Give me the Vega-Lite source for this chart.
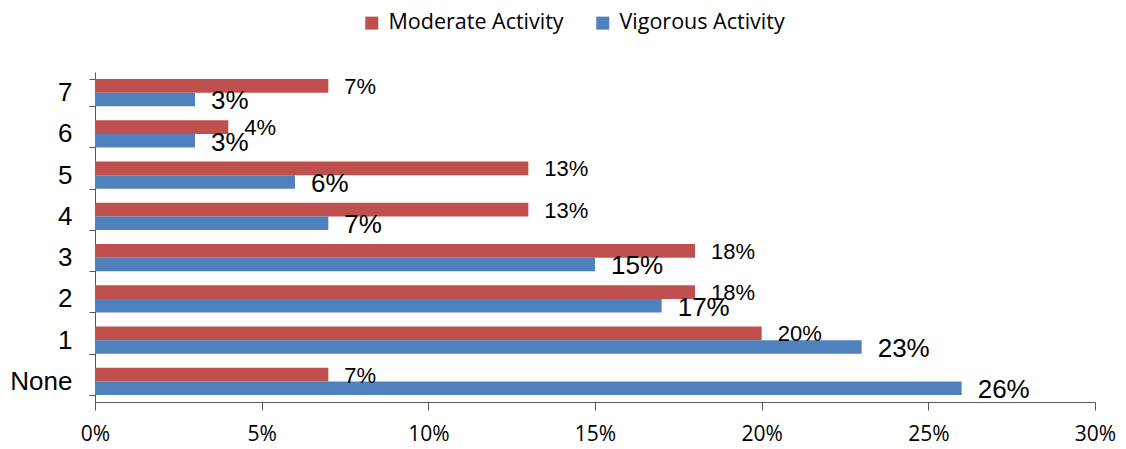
{
  "$schema": "https://vega.github.io/schema/vega-lite/v6.json",
  "autosize": {"type": "none"},
  "width": 1000,
  "height": 330,
  "padding": {"left": 95, "top": 72, "right": 31, "bottom": 47},
  "config": {
    "view": {"stroke": null},
    "font": "Liberation Sans",
    "text": {"font": "Liberation Sans", "color": "#000000"}
  },
  "data": {
    "values": [
      {"category": "7", "series": "Moderate Activity", "value": 0.07},
      {"category": "6", "series": "Moderate Activity", "value": 0.04},
      {"category": "5", "series": "Moderate Activity", "value": 0.13},
      {"category": "4", "series": "Moderate Activity", "value": 0.13},
      {"category": "3", "series": "Moderate Activity", "value": 0.18},
      {"category": "2", "series": "Moderate Activity", "value": 0.18},
      {"category": "1", "series": "Moderate Activity", "value": 0.20},
      {"category": "None", "series": "Moderate Activity", "value": 0.07},
      {"category": "7", "series": "Vigorous Activity", "value": 0.03},
      {"category": "6", "series": "Vigorous Activity", "value": 0.03},
      {"category": "5", "series": "Vigorous Activity", "value": 0.06},
      {"category": "4", "series": "Vigorous Activity", "value": 0.07},
      {"category": "3", "series": "Vigorous Activity", "value": 0.15},
      {"category": "2", "series": "Vigorous Activity", "value": 0.17},
      {"category": "1", "series": "Vigorous Activity", "value": 0.23},
      {"category": "None", "series": "Vigorous Activity", "value": 0.26}
    ]
  },
  "encoding": {
    "y": {
      "field": "category",
      "type": "nominal",
      "sort": ["7", "6", "5", "4", "3", "2", "1", "None"],
      "scale": {"paddingInner": 0.34, "paddingOuter": 0.17},
      "axis": {
        "title": null,
        "tickBand": "extent",
        "labelFont": "Liberation Sans",
        "labelFontSize": 26,
        "labelColor": "#000000",
        "labelPadding": 17,
        "tickSize": 6,
        "tickColor": "#555555",
        "domainColor": "#555555",
        "grid": false
      }
    },
    "yOffset": {
      "field": "series",
      "type": "nominal",
      "sort": ["Moderate Activity", "Vigorous Activity"]
    },
    "x": {
      "field": "value",
      "type": "quantitative",
      "scale": {"domain": [0, 0.3], "nice": false},
      "axis": {
        "title": null,
        "format": ".0%",
        "values": [0, 0.05, 0.1, 0.15, 0.2, 0.25, 0.3],
        "grid": false,
        "labelFont": "Open Sans",
        "labelFontSize": 21,
        "labelColor": "#000000",
        "labelPadding": 13,
        "tickSize": 8,
        "tickColor": "#555555",
        "domainColor": "#555555",
        "labelFlush": false
      }
    }
  },
  "layer": [
    {
      "mark": {"type": "bar"},
      "encoding": {
        "color": {
          "field": "series",
          "type": "nominal",
          "sort": ["Moderate Activity", "Vigorous Activity"],
          "scale": {"domain": ["Moderate Activity", "Vigorous Activity"], "range": ["#C0504D", "#4F81BD"]},
          "legend": {
            "title": null,
            "orient": "none",
            "direction": "horizontal",
            "legendX": 266,
            "legendY": -60,
            "padding": 0,
            "symbolType": "square",
            "symbolSize": 169,
            "symbolStrokeWidth": 0,
            "labelFont": "Open Sans",
            "labelFontSize": 21.5,
            "labelColor": "#000000",
            "labelOffset": 6,
            "columnPadding": 28,
            "labelLimit": 400
          }
        }
      }
    },
    {
      "transform": [{"filter": "datum.series === 'Moderate Activity'"}],
      "mark": {"type": "text", "align": "left", "baseline": "middle", "dx": 16, "dy": 1, "fontSize": 22},
      "encoding": {
        "text": {"field": "value", "type": "quantitative", "format": ".0%"}
      }
    },
    {
      "transform": [{"filter": "datum.series === 'Vigorous Activity'"}],
      "mark": {"type": "text", "align": "left", "baseline": "middle", "dx": 16, "dy": 2, "fontSize": 26},
      "encoding": {
        "text": {"field": "value", "type": "quantitative", "format": ".0%"}
      }
    }
  ]
}
